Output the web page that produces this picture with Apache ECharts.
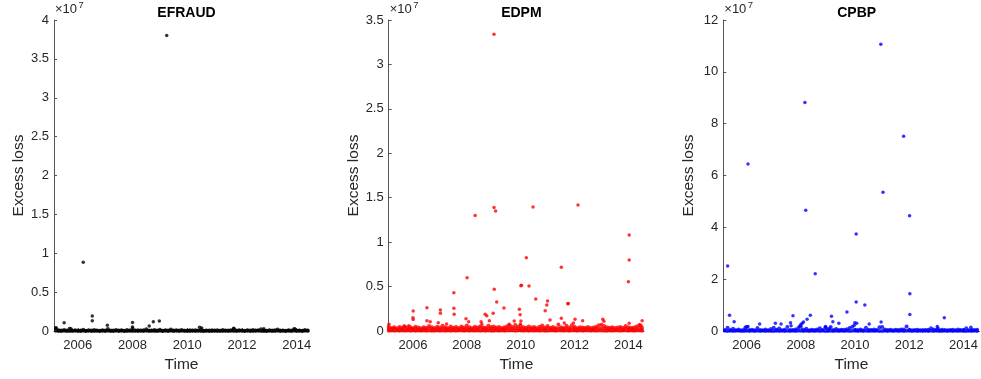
<!DOCTYPE html>
<html><head><meta charset="utf-8">
<script src="https://cdn.jsdelivr.net/npm/echarts@6/dist/echarts.min.js"></script>
<style>html,body{margin:0;padding:0;background:#fff}#c{width:981px;height:379px}</style>
</head><body><div id="c"></div>
<script>
// ---------------- DATA ----------------
const panelTitles = ['EFRAUD', 'EDPM', 'CPBP'];
const xTickLabels = [2006, 2008, 2010, 2012, 2014];
const yMax = [4e7, 3.5e7, 12e7];
const yStep = [0.5e7, 0.5e7, 2e7];
const xMin = [2005.13, 2005.10, 2005.14];
const xMax = [2014.45, 2014.58, 2014.59];

// dense low-value observations (read as a band near zero), sampled times
const baseTimes = [2005.1,2005.2,2005.3,2005.4,2005.5,2005.6,2005.7,2005.8,2005.9,
  2006.0,2006.1,2006.2,2006.3,2006.4,2006.5,2006.6,2006.7,2006.8,2006.9,
  2007.0,2007.1,2007.2,2007.3,2007.4,2007.5,2007.6,2007.7,2007.8,2007.9,
  2008.0,2008.1,2008.2,2008.3,2008.4,2008.5,2008.6,2008.7,2008.8,2008.9,
  2009.0,2009.1,2009.2,2009.3,2009.4,2009.5,2009.6,2009.7,2009.8,2009.9,
  2010.0,2010.1,2010.2,2010.3,2010.4,2010.5,2010.6,2010.7,2010.8,2010.9,
  2011.0,2011.1,2011.2,2011.3,2011.4,2011.5,2011.6,2011.7,2011.8,2011.9,
  2012.0,2012.1,2012.2,2012.3,2012.4,2012.5,2012.6,2012.7,2012.8,2012.9,
  2013.0,2013.1,2013.2,2013.3,2013.4,2013.5,2013.6,2013.7,2013.8,2013.9,
  2014.0,2014.1,2014.2,2014.3,2014.4,2014.5,2014.6];

// band values in thousands
const efraudLowK = [10,20,8,15,30,12,6,18,25, 14,9,22,11,30,16,7,20,13,28, 10,24,15,8,19,12,27,9,16,21,
  13,30,11,18,7,25,14,20,9,16, 22,10,28,13,17,8,24,12,19,26, 11,15,29,9,21,14,7,23,16,12,
  20,8,27,13,18,10,25,15,9,22, 17,11,28,14,6,19,24,12,16,10, 21,13,8,26,15,18,11,23,9,19, 14,20,12,17,25,10,15];
const efraudHighK = [60,380,90,50,120,70,280,45,100, 80,55,150,40,95,70,130,60,45,110,
  60,250,75,50,140,65,90,45,120,70, 320,60,110,55,90,240,80,50,130,65,
  150,45,85,70,200,60,95,50,120,40, 75,110,55,90,60,140,45,80,65,100,
  55,90,40,120,60,75,110,260,50,85, 70,45,95,60,130,50,85,220,65,40,
  90,60,110,180,50,75,45,100,65,240, 55,80,45,120,60,90,70];
const edpmLowK = [30,50,20,60,40,70,25,55,35, 45,20,65,35,55,25,70,40,30,60,
  25,55,40,70,30,50,20,65,45,35, 60,30,50,25,70,40,55,35,65,20,
  40,65,30,55,20,60,45,70,25,50, 55,25,70,40,60,30,50,20,65,35,
  30,60,45,25,55,70,35,50,20,65, 50,35,65,20,45,60,25,70,40,55,
  65,40,25,55,30,50,70,20,60,45, 35,55,20,65,45,30,40];
const edpmMidK = [220,180,250,160,230,200,260,170,240, 190,250,210,170,240,200,270,220,180,230,
  200,280,230,180,250,210,240,170,260,200, 290,220,190,250,200,270,230,190,280,240,
  260,200,230,180,220,270,290,240,300,260, 280,230,190,250,210,240,180,250,290,210,
  270,200,230,180,300,220,190,280,210,290, 240,180,220,200,190,240,170,210,250,290,
  300,270,230,190,220,180,200,240,200,270, 230,190,210,260,290,200,220];
const edpmHighK = [480,330,420,300,450,360,500,380,430, 350,480,400,320,430,360,560,410,330,470,
  380,600,430,340,500,370,440,330,520,390, 620,410,350,480,380,540,430,360,590,460,
  500,380,440,330,410,540,620,460,680,510, 600,430,360,500,380,450,340,480,630,400,
  560,370,440,330,720,410,350,600,390,660, 470,340,420,380,360,450,330,400,490,660,
  700,560,430,360,410,340,380,450,370,560, 430,360,400,500,640,380,420];
const cpbpLowK = [20,60,35,80,15,50,70,25,45, 55,30,75,20,65,40,85,25,50,35,
  40,70,25,60,35,80,20,55,45,65, 75,25,50,35,90,20,60,40,70,30,
  35,65,45,80,25,55,30,75,20,60, 60,20,85,30,50,40,70,25,65,45,
  25,55,35,70,45,80,20,60,30,75, 50,40,65,25,80,35,55,20,70,45,
  70,30,45,60,20,75,40,55,35,65, 45,25,60,35,70,30,50];
const cpbpHighK = [500,350,1300,400,900,300,600,250,450, 1500,350,500,280,1200,400,300,550,250,800,
  1300,450,1000,300,500,1500,350,400,600,1100, 1600,500,900,300,450,350,600,1100,400,1300,
  600,1500,400,800,350,500,450,700,1200,1600, 500,350,600,300,1300,450,350,550,400,1400,
  1500,600,350,450,300,500,400,550,600,1700, 450,300,350,500,280,400,350,450,1100,600,
  450,300,500,350,280,400,450,300,550,350, 400,1100,300,450,350,500,400];

// individual larger losses
const efraudT = [2009.25,2006.20,2006.53,2006.53,2005.50,2007.08,2008.00,2008.00,2008.61,2008.76,2008.98,2010.45,2010.53,2011.70,2005.20,2005.75,2012.80,2013.93];
const efraudV = [3.80e7,0.884e7,0.193e7,0.132e7,0.107e7,0.073e7,0.11e7,0.05e7,0.064e7,0.12e7,0.13e7,0.047e7,0.04e7,0.035e7,0.035e7,0.03e7,0.03e7,0.03e7];

const edpmT = [2009.01,2008.31,2009.01,2009.07,2010.46,2012.13,2014.03,2014.03,2014.00,2010.21,2011.51,2008.01,2009.02,2010.01,2010.03,2010.31,2007.52,2010.56,2009.11,2011.00,2010.97,2010.91,2011.75,2011.77,2009.38,2009.95,2009.98,2008.98,2008.68,2008.74,2007.52,2007.53,2007.02,2007.02,2006.52,2006.52,2006.64,2006.01,2006.00,2006.01,2005.11,2006.94,2007.25,2007.97,2008.07,2008.53,2008.56,2008.84,2009.57,2009.76,2010.01,2009.99,2011.09,2011.51,2012.02,2011.96,2012.30,2013.05,2013.09,2014.03,2014.51,2014.47,2014.43,2005.67,2005.85,2011.62];
const edpmV = [3.34e7,1.30e7,1.39e7,1.35e7,1.395e7,1.418e7,1.08e7,0.80e7,0.555e7,0.825e7,0.717e7,0.60e7,0.469e7,0.51e7,0.515e7,0.506e7,0.431e7,0.36e7,0.326e7,0.338e7,0.293e7,0.229e7,0.307e7,0.31e7,0.259e7,0.244e7,0.183e7,0.20e7,0.188e7,0.172e7,0.255e7,0.188e7,0.236e7,0.20e7,0.262e7,0.116e7,0.105e7,0.225e7,0.15e7,0.13e7,0.075e7,0.094e7,0.079e7,0.138e7,0.105e7,0.105e7,0.08e7,0.116e7,0.075e7,0.112e7,0.112e7,0.08e7,0.124e7,0.143e7,0.131e7,0.09e7,0.116e7,0.131e7,0.11e7,0.086e7,0.116e7,0.06e7,0.07e7,0.056e7,0.06e7,0.09e7];

const cpbpT = [2010.95,2008.15,2006.05,2011.79,2011.03,2008.18,2012.01,2010.04,2005.30,2008.53,2012.02,2010.04,2010.36,2005.37,2009.70,2012.02,2013.29,2008.35,2007.71,2009.13,2008.23,2005.54,2009.18,2010.96,2007.62,2008.05,2008.00,2007.95,2008.10,2007.06,2007.27,2009.40,2009.99,2010.06,2009.97,2010.52,2006.48,2008.91,2009.06,2006.05,2005.95,2013.03,2013.06,2014.27,2007.64,2008.92];
const cpbpV = [11.06e7,8.82e7,6.44e7,7.51e7,5.35e7,4.66e7,4.45e7,3.74e7,2.51e7,2.21e7,1.44e7,1.12e7,1.00e7,0.61e7,0.73e7,0.64e7,0.51e7,0.61e7,0.59e7,0.57e7,0.45e7,0.36e7,0.36e7,0.35e7,0.32e7,0.30e7,0.25e7,0.18e7,0.35e7,0.30e7,0.27e7,0.30e7,0.32e7,0.30e7,0.22e7,0.27e7,0.27e7,0.17e7,0.10e7,0.17e7,0.14e7,0.17e7,0.12e7,0.14e7,0.20e7,0.14e7];

// ---------------- CHART ----------------
const colors = ['#000000', '#ff0000', '#0000ff'];
const bands = [[efraudLowK, efraudHighK], [edpmLowK, edpmMidK, edpmHighK], [cpbpLowK, cpbpHighK]];
const ptsT = [efraudT, edpmT, cpbpT];
const ptsV = [efraudV, edpmV, cpbpV];

const gridLeft = [54, 388.7, 723.3];
const gridRight = [309, 644, 980];
const FONT = "'Liberation Sans', Arial, Helvetica, sans-serif";
const TXT = '#262626';
const AX = '#555555';

const grids = [], xAxes = [], yAxes = [], series = [], titles = [], graphics = [];
for (let p = 0; p < 3; p++) {
  grids.push({left: gridLeft[p], top: 20, width: gridRight[p] - gridLeft[p], height: 311});
  xAxes.push({
    type: 'value', gridIndex: p, min: xMin[p], max: xMax[p],
    name: 'Time', nameLocation: 'middle', nameGap: 19,
    nameTextStyle: {fontFamily: FONT, fontSize: 15.5, color: TXT},
    axisLine: {show: true, lineStyle: {color: AX, width: 1}},
    axisTick: {show: true, inside: true, length: 3, lineStyle: {color: AX}, customValues: xTickLabels},
    axisLabel: {fontFamily: FONT, fontSize: 13, color: TXT, margin: 8, customValues: xTickLabels, formatter: v => String(v)},
    splitLine: {show: false}
  });
  yAxes.push({
    type: 'value', gridIndex: p, min: 0, max: yMax[p], interval: yStep[p],
    name: 'Excess loss', nameLocation: 'middle', nameGap: 27,
    nameTextStyle: {fontFamily: FONT, fontSize: 15.5, color: TXT},
    axisLine: {show: true, lineStyle: {color: AX, width: 1}},
    axisTick: {show: true, inside: true, length: 3, lineStyle: {color: AX}},
    axisLabel: {fontFamily: FONT, fontSize: 13, color: TXT, margin: 5,
      formatter: v => String(+(v / 1e7).toFixed(2))},
    splitLine: {show: false}
  });
  const sets = bands[p].map(arr => [baseTimes.map((t, i) => [t, arr[i] * 1000]), 4]);
  sets.push([ptsT[p].map((t, i) => [t, ptsV[p][i]]), 3.5]);
  sets.forEach(([d, s]) => series.push({
    type: 'scatter', xAxisIndex: p, yAxisIndex: p, data: d,
    symbol: 'circle', symbolSize: s, itemStyle: {color: colors[p]},
    silent: true, animation: false
  }));
  titles.push({
    text: panelTitles[p], left: (gridLeft[p] + gridRight[p]) / 2, top: 1, textAlign: 'center',
    textStyle: {fontFamily: FONT, fontSize: 14, fontWeight: 'bold', color: '#000'}
  });
  graphics.push({type: 'text', left: gridLeft[p] + 1, top: 3,
    style: {text: '×10', font: '13px ' + FONT, fill: TXT}});
  graphics.push({type: 'text', left: gridLeft[p] + 24.5, top: 0,
    style: {text: '7', font: '9.5px ' + FONT, fill: TXT}});
}

const chart = echarts.init(document.getElementById('c'), null, {renderer: 'canvas'});
chart.setOption({
  animation: false,
  backgroundColor: '#ffffff',
  title: titles,
  grid: grids,
  xAxis: xAxes,
  yAxis: yAxes,
  series: series,
  graphic: graphics
});
</script>
</body></html>
